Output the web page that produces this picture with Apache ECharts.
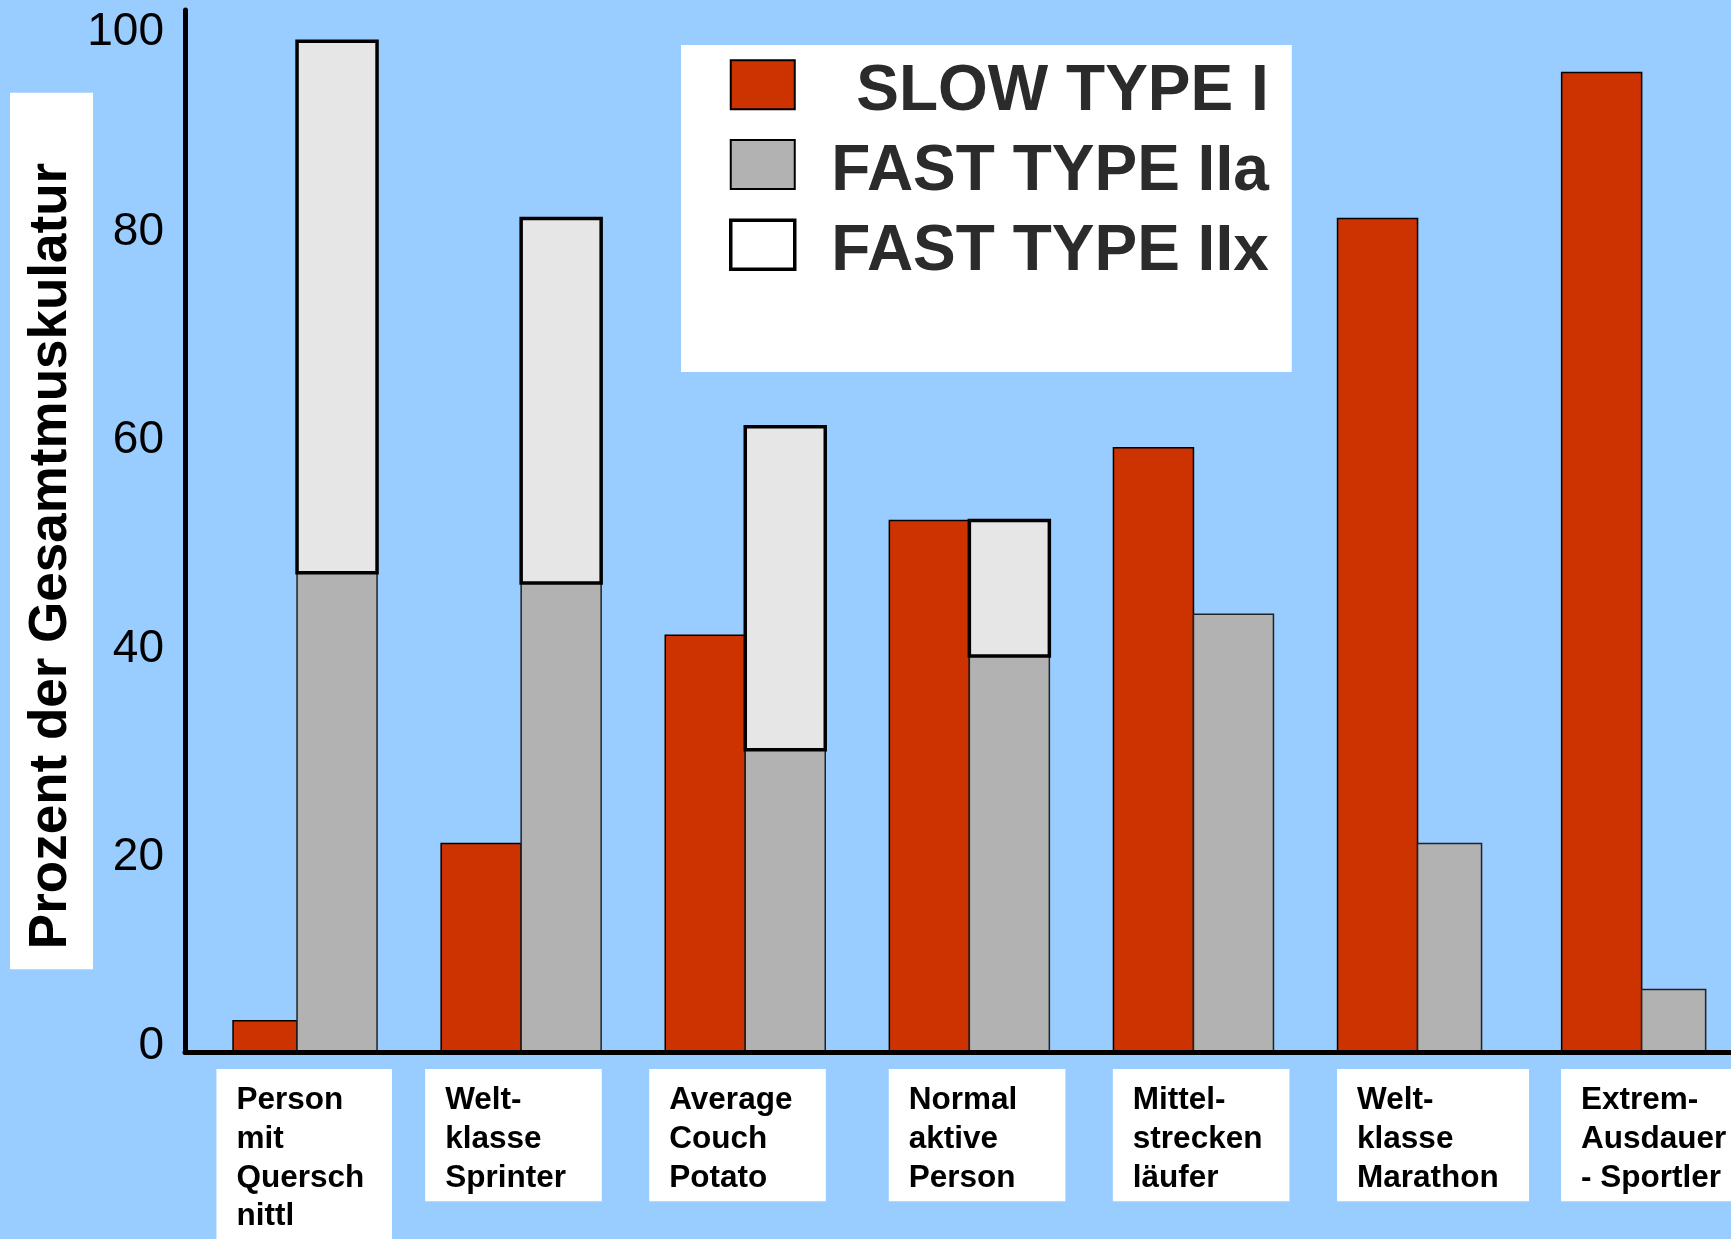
<!DOCTYPE html>
<html>
<head>
<meta charset="utf-8">
<script src="https://cdn.jsdelivr.net/npm/echarts@6/dist/echarts.min.js"></script>
<style>
  html, body { margin: 0; padding: 0; background: #99ccff; }
  #chart { width: 1731px; height: 1239px; }
</style>
</head>
<body>
<div id="chart"></div>
<script>
// Muscle fibre composition (% of total musculature) per group
const categories = [
  'Person\nmit\nQuersch\nnittl',
  'Welt-\nklasse\nSprinter',
  'Average\nCouch\nPotato',
  'Normal\naktive\nPerson',
  'Mittel-\nstrecken\nläufer',
  'Welt-\nklasse\nMarathon',
  'Extrem-\nAusdauer\n- Sportler'
];
const slowTypeI   = [3, 20, 40, 51, 58, 80, 94];
const fastTypeIIa = [46, 45, 29, 38, 42, 20, 6];
const fastTypeIIx = [51, 35, 31, 13, null, null, null];
const yTicks = [0, 20, 40, 60, 80, 100];
const seriesNames = ['SLOW TYPE I', 'FAST TYPE IIa', 'FAST TYPE IIx'];
const yTitle = 'Prozent der Gesamtmuskulatur';

const FONT = '"Liberation Sans", Arial, Helvetica, sans-serif';

// bar geometry: share of the category band per bar, plus a few narrower bars
const BAR_SHARE = 80 / 224.1;
const slowWidthScale = [0.8, 1, 1, 1, 1, 1, 1];
const fastWidthScale = [1, 1, 1, 1, 1, 0.8, 0.8];

// label box placement relative to the category centre (layout only)
const labelBoxLeft  = [-80.6, -96, -96, -80.6, -80.6, -80.5, -80.6];
const labelBoxWidth = [175.5, 176.6, 176.6, 176.6, 176.6, 192, 200];

const colors = { slow: '#cc3300', iia: '#b2b2b2', iix: '#e6e6e6' };

const chart = echarts.init(document.getElementById('chart'), null, { renderer: 'canvas' });

function tickRich(pad) {
  return { fontSize: 46, fontFamily: FONT, color: '#000', padding: pad };
}

// one rectangle between two values, left (side -1) or right (side +1) of the category centre
function barShape(api, idx, from, to, side, scale) {
  const p0 = api.coord([idx, from]);
  const p1 = api.coord([idx, to]);
  const w = api.size([1, 0])[0] * BAR_SHARE * scale;
  const x = side < 0 ? p0[0] - w : p0[0];
  return { x: x, y: p1[1], width: w, height: p0[1] - p1[1] };
}

const option = {
  backgroundColor: '#99ccff',
  animation: false,
  grid: { left: 185, right: -22.7, top: 10, bottom: 187, containLabel: false, outerBoundsMode: 'none' },
  legend: {
    orient: 'vertical',
    left: 681,
    top: 45,
    backgroundColor: '#ffffff',
    padding: [14.3, 23, 87.3, 48],
    itemWidth: 64,
    itemHeight: 49,
    itemGap: 14.1,
    icon: 'rect',
    selectedMode: false,
    formatter: function (name) { return '{t|' + name + '}'; },
    textStyle: {
      rich: {
        t: {
          width: 469, align: 'right', fontSize: 64, fontWeight: 'bold',
          fontFamily: FONT, color: '#2b2b2b', padding: [16, 0, 0, 0]
        }
      }
    },
    data: [
      { name: seriesNames[0], itemStyle: { color: colors.slow, borderColor: '#000', borderWidth: 2 } },
      { name: seriesNames[1], itemStyle: { color: colors.iia, borderColor: '#000', borderWidth: 2 } },
      { name: seriesNames[2], itemStyle: { color: '#ffffff', borderColor: '#000', borderWidth: 3.5 } }
    ]
  },
  xAxis: {
    type: 'category',
    data: categories,
    z: 5,
    axisLine: { show: true, lineStyle: { color: '#000', width: 5 } },
    axisTick: { show: false },
    axisLabel: { show: false },
    splitLine: { show: false }
  },
  yAxis: {
    type: 'value',
    min: yTicks[0],
    max: yTicks[yTicks.length - 1],
    interval: yTicks[1] - yTicks[0],
    z: 5,
    axisLine: { show: true, lineStyle: { color: '#000', width: 5 } },
    axisTick: { show: false },
    splitLine: { show: false },
    axisLabel: {
      margin: 21,
      showMinLabel: true,
      showMaxLabel: true,
      fontSize: 46,
      fontFamily: FONT,
      color: '#000',
      formatter: function (v) {
        if (v === yTicks[yTicks.length - 1]) return '{t|' + v + '}';
        if (v === yTicks[0]) return '{b|' + v + '}';
        return '{m|' + v + '}';
      },
      rich: {
        t: tickRich([44, 0, 0, 0]),
        m: tickRich([28, 0, 0, 0]),
        b: tickRich([0, 0, 12, 0])
      }
    },
    name: yTitle,
    nameLocation: 'middle',
    nameRotate: 90,
    nameGap: 92,
    nameMoveOverlap: false,
    nameTextStyle: {
      fontSize: 53,
      fontWeight: 'bold',
      fontFamily: FONT,
      color: '#000',
      backgroundColor: '#ffffff',
      padding: [15, 70, 15, 20]
    }
  },
  series: [
    {
      name: seriesNames[0],
      type: 'custom',
      itemStyle: { color: colors.slow, borderColor: '#000', borderWidth: 1.5 },
      encode: { x: 0, y: 1 },
      data: slowTypeI.map(function (v, i) { return [i, v]; }),
      renderItem: function (params, api) {
        const i = api.value(0), v = api.value(1);
        if (isNaN(v)) return null;
        return {
          type: 'rect',
          shape: barShape(api, i, 0, v, -1, slowWidthScale[i]),
          style: { fill: colors.slow, stroke: '#000', lineWidth: 1.5 }
        };
      }
    },
    {
      name: seriesNames[1],
      type: 'custom',
      itemStyle: { color: colors.iia, borderColor: '#222', borderWidth: 1.5 },
      encode: { x: 0, y: 1 },
      data: fastTypeIIa.map(function (v, i) { return [i, v]; }),
      renderItem: function (params, api) {
        const i = api.value(0), v = api.value(1);
        if (isNaN(v)) return null;
        return {
          type: 'rect',
          shape: barShape(api, i, 0, v, 1, fastWidthScale[i]),
          style: { fill: colors.iia, stroke: '#222', lineWidth: 1.5 }
        };
      }
    },
    {
      // stacked on top of type IIa
      name: seriesNames[2],
      type: 'custom',
      itemStyle: { color: colors.iix, borderColor: '#000', borderWidth: 3.5 },
      encode: { x: 0, y: [1, 2] },
      data: fastTypeIIx.map(function (v, i) { return [i, fastTypeIIa[i], v == null ? '-' : v]; }),
      renderItem: function (params, api) {
        const i = api.value(0), base = api.value(1), v = api.value(2);
        if (isNaN(v) || v == null) return null;
        return {
          type: 'rect',
          shape: barShape(api, i, base, base + v, 1, fastWidthScale[i]),
          style: { fill: colors.iix, stroke: '#000', lineWidth: 3.5 }
        };
      }
    }
  ]
};

chart.setOption(option);

// category captions in white boxes under the axis
const baseY = chart.convertToPixel({ yAxisIndex: 0 }, 0);
const lineH = 38.6;
const boxTop = baseY + 17;
const textTop = boxTop + 12.5;
const graphics = categories.map(function (name, i) {
  const cx = chart.convertToPixel({ xAxisIndex: 0 }, i);
  const left = cx + labelBoxLeft[i];
  const lines = name.split('\n').length;
  const h = 9.7 + lines * lineH + 6.7;
  return {
    type: 'group',
    children: [
      { type: 'rect', shape: { x: left, y: boxTop, width: labelBoxWidth[i], height: h }, style: { fill: '#ffffff' } },
      {
        type: 'text', x: left + 20, y: textTop,
        style: {
          text: name, fill: '#000', fontSize: 31.5, fontWeight: 'bold', fontFamily: FONT,
          lineHeight: lineH, verticalAlign: 'top', align: 'left'
        }
      }
    ]
  };
});
chart.setOption({ graphic: graphics });
</script>
</body>
</html>
